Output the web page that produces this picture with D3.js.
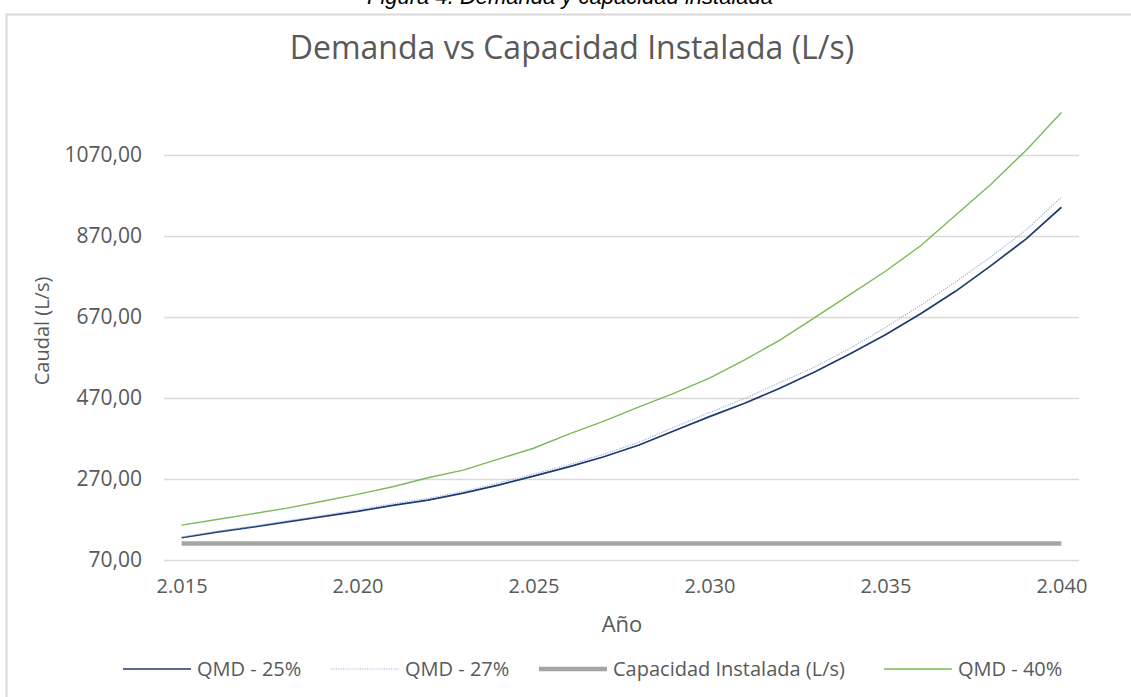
<!DOCTYPE html>
<html>
<head>
<meta charset="utf-8">
<script src="https://cdn.jsdelivr.net/npm/d3@7"></script>
<style>
  body { margin: 0; background: #fff; }
  svg { display: block; }
</style>
</head>
<body>
<div id="chartDiv"></div>
<script>

// Chart data
var years = [2015, 2016, 2017, 2018, 2019, 2020, 2021, 2022, 2023, 2024, 2025, 2026, 2027,
             2028, 2029, 2030, 2031, 2032, 2033, 2034, 2035, 2036, 2037, 2038, 2039, 2040];

var qmd25 = [125, 139, 151, 164, 177, 190, 205, 218, 235, 255, 277, 300, 325,
             354, 389, 424, 457, 494, 535, 579, 626, 678, 734, 797, 863, 941];

var qmd27 = [127, 141, 153, 167, 180, 194, 209, 222, 239, 260, 282, 305, 331,
             361, 398, 434, 469, 508, 547, 593, 644, 699, 757, 819, 885, 966];

var capacidad = [111, 111, 111, 111, 111, 111, 111, 111, 111, 111, 111, 111, 111,
                 111, 111, 111, 111, 111, 111, 111, 111, 111, 111, 111, 111, 111];

var qmd40 = [156, 170, 184, 198, 215, 232, 251, 273, 292, 319, 346, 381, 413,
             448, 482, 519, 564, 613, 669, 726, 783, 846, 922, 998, 1082, 1175];

var yTicks = [70, 270, 470, 670, 870, 1070];
var xTicks = [2015, 2020, 2025, 2030, 2035, 2040];

var seriesNames = ["QMD - 25%", "QMD - 27%", "Capacidad Instalada (L/s)", "QMD - 40%"];


var W = 1131, H = 697;
var fontFam = "'Open Sans', sans-serif";
var textColor = "#595959";

var plot = {left: 164, right: 1079, top: 112, bottom: 560};

var es = d3.formatLocale({decimal: ",", thousands: ".", grouping: [3], currency: ["", ""]});
var fmtY = es.format(".2f");
var fmtX = es.format(",d");

// category axis: points sit in the middle of each year slot
x = d3.scaleLinear().domain([years[0] - 0.5, years[years.length - 1] + 0.5]).range([plot.left, plot.right]);
y = d3.scaleLinear().domain([70, 1070]).range([plot.bottom, 155]);

var svg = d3.select("#chartDiv").append("svg")
    .attr("width", W)
    .attr("height", H);

//caption above chart (cut off in the original)
svg.append("text")
    .attr("x", 570)
    .attr("y", 4)
    .attr("text-anchor", "middle")
    .style("font-family", "'Liberation Sans', Arial, sans-serif")
    .style("font-style", "italic")
    .style("font-size", "22px")
    .attr("fill", "#000")
    .text("Figura 4. Demanda y capacidad instalada");

//chart frame
svg.append("rect")
    .attr("x", 6.5)
    .attr("y", 14.5)
    .attr("width", W + 20)
    .attr("height", H + 20)
    .style("fill", "white")
    .style("stroke", "#d9d9d9")
    .style("stroke-width", 2);

//title
svg.append("text")
    .attr("x", 572)
    .attr("y", 59)
    .attr("text-anchor", "middle")
    .style("font-family", fontFam)
    .style("font-size", "32px")
    .attr("fill", textColor)
    .text("Demanda vs Capacidad Instalada (L/s)");

//gridlines + y labels
var yAxis = svg.append("g")
    .attr("transform", "translate(" + plot.left + ",0)")
    .call(d3.axisLeft(y).tickValues(yTicks).tickSize(-(plot.right - plot.left)).tickFormat(fmtY).tickPadding(22));

yAxis.select(".domain").remove();
yAxis.selectAll(".tick line")
    .attr("stroke", "#d9d9d9")
    .attr("stroke-width", 1.3);
yAxis.selectAll(".tick text")
    .attr("fill", textColor)
    .style("font-family", fontFam)
    .style("font-size", "21px");

var xAxis = svg.append("g")
    .attr("transform", "translate(0," + plot.bottom + ")")
    .call(d3.axisBottom(x).tickValues(xTicks).tickSize(0).tickFormat(fmtX).tickPadding(19));

xAxis.select(".domain").remove();
xAxis.selectAll(".tick text")
    .attr("fill", textColor)
    .style("font-family", fontFam)
    .style("font-size", "20px");

//axis titles
svg.append("text")
    .attr("transform", "translate(49,331) rotate(-90)")
    .attr("text-anchor", "middle")
    .style("font-family", fontFam)
    .style("font-size", "20px")
    .attr("fill", textColor)
    .text("Caudal (L/s)");

svg.append("text")
    .attr("x", 622)
    .attr("y", 632)
    .attr("text-anchor", "middle")
    .style("font-family", fontFam)
    .style("font-size", "22px")
    .attr("fill", textColor)
    .text("Año");

//series
var styles = [
    {color: "#1f3a6e", width: 1.7, dash: null},
    {color: "#9db3dc", width: 1.2, dash: "1.2,1.2"},
    {color: "#a5a5a5", width: 4.5, dash: null},
    {color: "#7cb957", width: 1.4, dash: null}
];

var allSeries = [qmd25, qmd27, capacidad, qmd40];

var line = d3.line()
    .x(function (d, i) { return x(years[i]) })
    .y(function (d) { return y(d) });

// draw order: grey capacity first, then the demand lines
var drawOrder = [2, 0, 1, 3];
drawOrder.forEach(function (k) {
    svg.append("path")
        .datum(allSeries[k])
        .attr("d", line)
        .style("fill", "none")
        .style("stroke", styles[k].color)
        .style("stroke-width", styles[k].width)
        .style("stroke-dasharray", styles[k].dash);
});

//legend
var legendX = [123, 331, 539, 884];
var legend = svg.selectAll(".legendItem")
    .data(seriesNames)
    .enter().append("g")
    .attr("class", "legendItem")
    .attr("transform", function (d, i) { return "translate(" + legendX[i] + ",669)" });

legend.append("line")
    .attr("x1", 0)
    .attr("x2", 68)
    .style("stroke", function (d, i) { return styles[i].color })
    .style("stroke-width", function (d, i) { return styles[i].width })
    .style("stroke-dasharray", function (d, i) { return styles[i].dash });

legend.append("text")
    .attr("x", 74)
    .attr("dy", "0.35em")
    .style("font-family", fontFam)
    .style("font-size", "20px")
    .attr("fill", textColor)
    .text(function (d) { return d });

</script>
</body>
</html>
